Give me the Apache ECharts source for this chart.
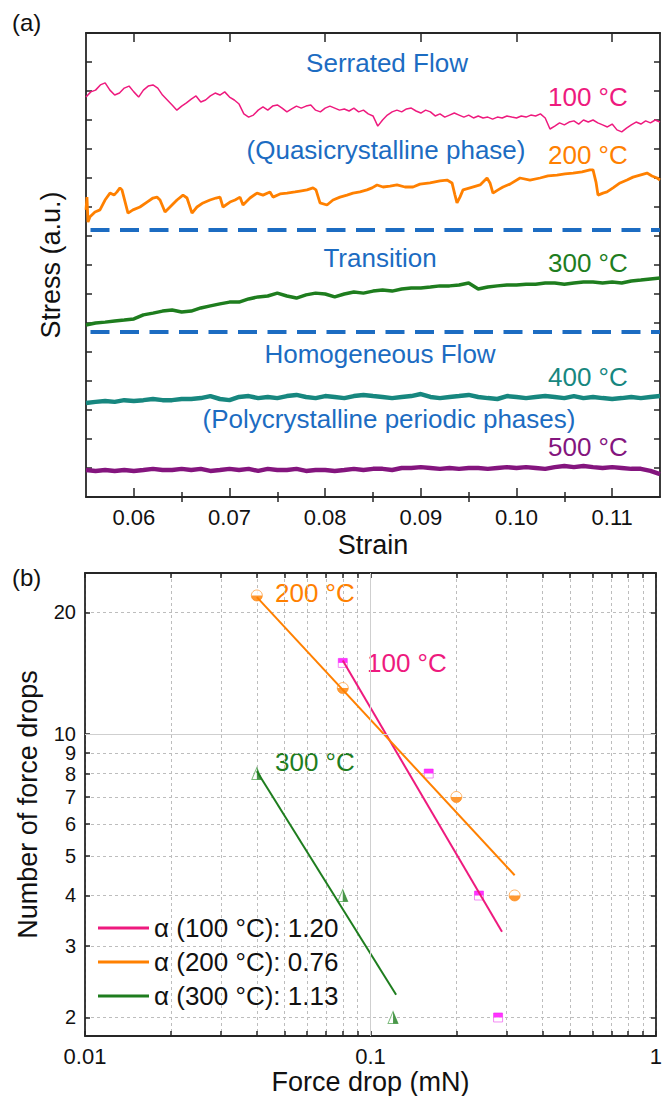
<!DOCTYPE html>
<html>
<head>
<meta charset="utf-8">
<script src="https://cdn.jsdelivr.net/npm/echarts@6/dist/echarts.min.js"></script>
<style>
  html, body { margin: 0; padding: 0; background: #fff; }
  #chart { width: 665px; height: 1096px; }
</style>
</head>
<body>
<div id="chart"></div>
<script>
const FONT = "'Liberation Sans', Arial, Helvetica, sans-serif";

// ---------- Panel (a): stress–strain curves (stress in arbitrary units) ----------
const strainFine = [0.0550,0.0555,0.0560,0.0565,0.0570,0.0575,0.0580,0.0585,0.0590,0.0595,0.0600,0.0605,0.0610,0.0615,0.0620,0.0625,0.0630,0.0635,0.0640,0.0645,0.0650,0.0655,0.0660,0.0665,0.0670,0.0675,0.0680,0.0685,0.0690,0.0695,0.0700,0.0705,0.0710,0.0715,0.0720,0.0725,0.0730,0.0735,0.0740,0.0745,0.0750,0.0755,0.0760,0.0765,0.0770,0.0775,0.0780,0.0785,0.0790,0.0795,0.0800,0.0805,0.0810,0.0815,0.0820,0.0825,0.0830,0.0835,0.0840,0.0845,0.0850,0.0855,0.0860,0.0865,0.0870,0.0875,0.0880,0.0885,0.0890,0.0895,0.0900,0.0905,0.0910,0.0915,0.0920,0.0925,0.0930,0.0935,0.0940,0.0945,0.0950,0.0955,0.0960,0.0965,0.0970,0.0975,0.0980,0.0985,0.0990,0.0995,0.1000,0.1005,0.1010,0.1015,0.1020,0.1025,0.1030,0.1035,0.1040,0.1045,0.1050,0.1055,0.1060,0.1065,0.1070,0.1075,0.1080,0.1085,0.1090,0.1095,0.1100,0.1105,0.1110,0.1115,0.1120,0.1125,0.1130,0.1135,0.1140,0.1145,0.1150];

const stress100 = [13.79,13.97,14.03,14.21,14.28,14.03,13.86,13.93,14.10,14.17,
  13.97,13.79,14.03,14.17,14.21,14.10,13.86,13.69,13.52,13.34,
  13.48,13.59,13.72,13.83,13.62,13.69,13.83,13.93,13.86,13.97,
  13.79,13.69,13.55,13.21,13.10,13.17,13.34,13.45,13.34,13.48,
  13.52,13.41,13.28,13.38,13.48,13.41,13.48,13.52,13.34,13.28,
  13.41,13.48,13.41,13.34,13.38,13.31,13.41,13.28,13.34,13.21,
  13.14,12.79,13.00,13.17,13.28,13.34,13.28,13.38,13.41,13.31,
  13.24,13.34,13.28,13.14,13.21,13.10,13.17,13.24,13.17,13.10,
  13.17,13.07,13.14,13.07,13.10,13.03,13.10,13.07,13.14,13.10,
  13.07,13.14,13.10,13.17,13.14,13.21,13.07,12.69,12.79,12.90,
  12.83,12.93,12.97,12.86,13.00,12.93,13.00,12.90,12.83,12.76,
  12.86,12.66,12.59,12.72,12.83,12.93,12.86,12.97,12.90,13.00,
  12.93];

const strain200 = [0.05500,0.05510,0.05521,0.05542,0.05594,0.05646,0.05699,0.05751,0.05793,0.05824,
  0.05855,0.05876,0.05939,0.05991,0.06064,0.06138,0.06200,0.06242,0.06274,0.06326,
  0.06378,0.06451,0.06514,0.06556,0.06608,0.06660,0.06723,0.06796,0.06859,0.06901,
  0.06932,0.07005,0.07058,0.07110,0.07141,0.07214,0.07287,0.07350,0.07423,0.07455,
  0.07528,0.07601,0.07685,0.07737,0.07810,0.07873,0.07904,0.07946,0.08019,0.08082,
  0.08155,0.08228,0.08291,0.08364,0.08437,0.08490,0.08542,0.08605,0.08678,0.08751,
  0.08834,0.08918,0.08991,0.09096,0.09200,0.09274,0.09326,0.09357,0.09378,0.09409,
  0.09441,0.09514,0.09619,0.09692,0.09723,0.09754,0.09807,0.09859,0.09932,0.10037,
  0.10141,0.10246,0.10329,0.10423,0.10507,0.10591,0.10685,0.10768,0.10800,0.10831,
  0.10852,0.10904,0.10946,0.11009,0.11082,0.11155,0.11218,0.11291,0.11364,0.11416,
  0.11469,0.11500];
const stress200 = [9.90,10.34,9.48,9.66,9.83,9.90,10.24,10.48,10.41,10.52,
  10.66,10.59,9.79,9.90,10.00,10.17,10.31,10.34,10.24,9.83,
  10.00,10.24,10.41,10.31,9.79,10.00,10.14,10.24,10.31,10.34,
  10.00,10.17,10.24,10.34,10.07,10.31,10.48,10.41,10.52,10.34,
  10.45,10.48,10.52,10.55,10.59,10.66,10.59,10.14,10.07,10.24,
  10.34,10.41,10.48,10.52,10.59,10.66,10.76,10.69,10.72,10.76,
  10.69,10.69,10.79,10.83,10.90,10.93,10.83,10.41,10.14,10.34,
  10.59,10.66,10.76,11.00,10.83,10.48,10.59,10.69,10.79,11.00,
  10.93,11.00,11.07,11.10,11.14,11.17,11.21,11.28,11.28,10.86,
  10.41,10.48,10.52,10.66,10.83,10.93,11.03,11.10,11.17,11.07,
  11.00,10.93];

const strainCoarse = [0.055,0.056,0.057,0.058,0.059,0.060,0.061,0.062,0.063,0.064,0.065,0.066,0.067,0.068,0.069,0.070,0.071,0.072,0.073,0.074,0.075,0.076,0.077,0.078,0.079,0.080,0.081,0.082,0.083,0.084,0.085,0.086,0.087,0.088,0.089,0.090,0.091,0.092,0.093,0.094,0.095,0.096,0.097,0.098,0.099,0.100,0.101,0.102,0.103,0.104,0.105,0.106,0.107,0.108,0.109,0.110,0.111,0.112,0.113,0.114,0.115];

const stress300 = [5.93,6.00,6.03,6.07,6.10,6.14,6.28,6.34,6.41,6.45,
  6.38,6.41,6.52,6.59,6.66,6.72,6.72,6.83,6.90,6.93,
  7.03,6.93,6.86,6.97,7.03,7.00,6.90,7.00,7.07,7.03,
  7.10,7.14,7.10,7.17,7.21,7.21,7.24,7.28,7.28,7.31,
  7.38,7.17,7.24,7.28,7.31,7.31,7.34,7.34,7.38,7.38,
  7.34,7.38,7.41,7.41,7.38,7.41,7.38,7.45,7.48,7.52,
  7.55];
const stress400 = [3.24,3.28,3.31,3.28,3.34,3.31,3.34,3.38,3.34,3.34,
  3.38,3.38,3.41,3.48,3.38,3.34,3.45,3.48,3.41,3.45,
  3.41,3.48,3.52,3.45,3.41,3.48,3.45,3.41,3.48,3.52,
  3.48,3.45,3.41,3.45,3.48,3.55,3.45,3.41,3.45,3.48,
  3.52,3.45,3.41,3.38,3.48,3.45,3.41,3.45,3.48,3.45,
  3.41,3.48,3.41,3.45,3.41,3.38,3.41,3.45,3.41,3.45,
  3.48];
const stress500 = [0.93,0.90,0.93,0.90,0.93,0.90,0.93,0.97,0.93,0.93,
  0.97,0.93,0.97,0.90,0.93,0.97,0.93,0.97,0.90,0.97,
  0.93,0.93,0.97,0.90,0.93,0.93,0.90,0.93,0.97,0.93,
  0.97,0.97,0.93,1.00,1.00,1.03,1.00,0.97,1.00,0.97,
  1.00,1.00,0.97,1.00,1.03,1.00,1.03,1.00,0.97,1.03,
  1.07,1.03,1.07,1.03,1.00,1.03,1.00,0.97,0.97,0.90,
  0.79];

// regime boundaries (stress levels of the dashed separators)
const regimeBounds = [9.21, 5.70];

// tick positions
const strainMajor = [0.06, 0.07, 0.08, 0.09, 0.10, 0.11];
const strainMinor = [0.065, 0.075, 0.085, 0.095, 0.105];

// ---------- Panel (b): force-drop statistics ----------
const force100 = [0.08, 0.16, 0.24, 0.28];
const count100 = [15, 8, 4, 2];
const force200 = [0.04, 0.08, 0.2, 0.32];
const count200 = [22, 13, 7, 4];
const force300 = [0.04, 0.08, 0.12];
const count300 = [8, 4, 2];

// power-law fits: start point, end force, exponent
const fit100 = { x0: 0.08, y0: 15.2, x1: 0.289, alpha: 1.20 };
const fit200 = { x0: 0.04, y0: 21.8, x1: 0.32, alpha: 0.76 };
const fit300 = { x0: 0.04, y0: 8.1, x1: 0.123, alpha: 1.13 };

const forceTicks = [0.01,0.02,0.03,0.04,0.05,0.06,0.07,0.08,0.09,0.1,0.2,0.3,0.4,0.5,0.6,0.7,0.8,0.9,1];
const forceLabels = [0.01, 0.1, 1];
const countTicks = [2,3,4,5,6,7,8,9,10,20];

// ---------- colours ----------
const C100 = '#ee1a7e', C200 = '#ff8000', C300 = '#1e7d1e', C400 = '#17877f', C500 = '#84157e';
const BLUE = '#1c6cc2';
const AX = '#262626';

const zip = (xs, ys) => xs.map((x, i) => [x, ys[i]]);
const fitLine = f => [[f.x0, f.y0], [f.x1, f.y0 * Math.pow(f.x1 / f.x0, -f.alpha)]];
const fmtForce = v => (Math.abs(v - 1) < 1e-9 ? '1' : Math.abs(v - 0.1) < 1e-9 ? '0.1' : '0.01');

const name100 = 'α (100 °C): 1.20';
const name200 = 'α (200 °C): 0.76';
const name300 = 'α (300 °C): 1.13';

function frameAxis(extra) {
  return Object.assign({
    axisLine: { show: true, onZero: false, lineStyle: { color: AX, width: 1.8 } },
    axisTick: { show: false },
    axisLabel: { show: false },
    splitLine: { show: false }
  }, extra);
}
const tick = (values, len) => ({ show: true, inside: true, length: len, customValues: values, lineStyle: { color: AX, width: 1.5 } });

const dotted = { show: true, lineStyle: { color: '#bdbdbd', width: 1, type: [3, 3] } };
const titleStyle = { fontSize: 27, color: '#111', fontFamily: FONT };

const chart = echarts.init(document.getElementById('chart'), null, { renderer: 'svg' });

const option = {
  animation: false,
  backgroundColor: '#fff',
  textStyle: { fontFamily: FONT },
  grid: [
    { left: 86, top: 33, width: 574, height: 464 },
    { left: 85, top: 573, width: 572, height: 463 }
  ],
  xAxis: [
    frameAxis({ gridIndex: 0, type: 'value', min: 0.055, max: 0.115, position: 'bottom',
      axisTick: tick(strainMajor, 9),
      axisLabel: { show: true, customValues: strainMajor, formatter: v => v.toFixed(2), fontSize: 22, color: '#111', margin: 9, fontFamily: FONT },
      name: 'Strain', nameLocation: 'middle', nameGap: 34, nameTextStyle: titleStyle }),
    frameAxis({ gridIndex: 0, type: 'value', min: 0.055, max: 0.115, position: 'bottom',
      axisLine: { show: false }, axisTick: tick(strainMinor, 5) }),
    frameAxis({ gridIndex: 0, type: 'value', min: 0.055, max: 0.115, position: 'top',
      axisTick: tick(strainMajor, 9) }),
    frameAxis({ gridIndex: 0, type: 'value', min: 0.055, max: 0.115, position: 'top',
      axisLine: { show: false }, axisTick: tick(strainMinor, 5) }),
    frameAxis({ gridIndex: 1, type: 'log', logBase: 10, min: 0.01, max: 1, position: 'bottom',
      axisTick: tick(forceTicks, 5),
      axisLabel: { show: true, customValues: forceLabels, formatter: fmtForce, fontSize: 22, color: '#111', margin: 9, fontFamily: FONT },
      splitLine: dotted,
      name: 'Force drop (mN)', nameLocation: 'middle', nameGap: 32, nameTextStyle: titleStyle }),
    frameAxis({ gridIndex: 1, type: 'log', logBase: 10, min: 0.01, max: 1, position: 'top',
      axisTick: tick(forceTicks, 5) })
  ],
  yAxis: [
    frameAxis({ gridIndex: 0, type: 'value', min: 0, max: 16, interval: 1, position: 'left',
      axisTick: { show: true, inside: true, length: 6, lineStyle: { color: AX, width: 1.5 } },
      name: 'Stress (a.u.)', nameLocation: 'middle', nameGap: 22, nameTextStyle: titleStyle }),
    frameAxis({ gridIndex: 0, type: 'value', min: 0, max: 16, interval: 1, position: 'right',
      axisTick: { show: true, inside: true, length: 6, lineStyle: { color: AX, width: 1.5 } } }),
    frameAxis({ gridIndex: 1, type: 'log', logBase: 10, min: 1.8, max: 25, position: 'left',
      axisTick: tick(countTicks, 5),
      axisLabel: { show: true, customValues: countTicks, formatter: v => String(Math.round(v)),
        fontSize: 20, lineHeight: 16, color: '#111', margin: 9, fontFamily: FONT },
      splitLine: dotted,
      name: 'Number of force drops', nameLocation: 'middle', nameGap: 44, nameTextStyle: titleStyle }),
    frameAxis({ gridIndex: 1, type: 'log', logBase: 10, min: 1.8, max: 25, position: 'right',
      axisTick: tick(countTicks, 5) })
  ],
  legend: {
    data: [name100, name200, name300],
    orient: 'vertical', left: 93, top: 910,
    itemWidth: 51, itemHeight: 3, itemGap: 8, icon: 'rect',
    selectedMode: false,
    textStyle: { fontSize: 26, color: '#111', fontFamily: FONT }
  },
  series: [
    // ----- panel (a) -----
    { type: 'line', name: '100 °C', xAxisIndex: 0, yAxisIndex: 0, data: zip(strainFine, stress100),
      showSymbol: false, lineStyle: { color: C100, width: 1.5 }, itemStyle: { color: C100 } },
    { type: 'line', name: '200 °C', xAxisIndex: 0, yAxisIndex: 0, data: zip(strain200, stress200),
      showSymbol: false, lineStyle: { color: C200, width: 2.8 }, itemStyle: { color: C200 } },
    { type: 'line', name: '300 °C', xAxisIndex: 0, yAxisIndex: 0, data: zip(strainCoarse, stress300),
      showSymbol: false, lineStyle: { color: C300, width: 3.5 }, itemStyle: { color: C300 } },
    { type: 'line', name: '400 °C', xAxisIndex: 0, yAxisIndex: 0, data: zip(strainCoarse, stress400),
      showSymbol: false, lineStyle: { color: C400, width: 4.5 }, itemStyle: { color: C400 } },
    { type: 'line', name: '500 °C', xAxisIndex: 0, yAxisIndex: 0, data: zip(strainCoarse, stress500),
      showSymbol: false, lineStyle: { color: C500, width: 4.5 }, itemStyle: { color: C500 },
      markLine: { silent: true, symbol: 'none', label: { show: false },
        lineStyle: { color: BLUE, width: 4, type: [19, 10.5], dashOffset: 25 },
        data: regimeBounds.map(v => ({ yAxis: v })) } },

    // ----- panel (b): fitted power laws -----
    { type: 'line', name: name100, xAxisIndex: 4, yAxisIndex: 2, data: fitLine(fit100),
      showSymbol: false, lineStyle: { color: C100, width: 2 }, itemStyle: { color: C100 },
      markLine: { silent: true, symbol: 'none', label: { show: false },
        lineStyle: { color: '#cfcfcf', width: 1, type: 'solid' },
        data: [{ xAxis: 0.1 }, { yAxis: 10 }] } },
    { type: 'line', name: name200, xAxisIndex: 4, yAxisIndex: 2, data: fitLine(fit200),
      showSymbol: false, lineStyle: { color: C200, width: 2 }, itemStyle: { color: C200 } },
    { type: 'line', name: name300, xAxisIndex: 4, yAxisIndex: 2, data: fitLine(fit300),
      showSymbol: false, lineStyle: { color: C300, width: 2 }, itemStyle: { color: C300 } },

    // ----- panel (b): half-filled markers (outline + filled half) -----
    { type: 'scatter', name: '100 °C pts', xAxisIndex: 4, yAxisIndex: 2, data: zip(force100, count100),
      symbol: 'rect', symbolSize: 9, itemStyle: { color: '#fff', borderColor: '#f06ef0', borderWidth: 1 } },
    { type: 'scatter', name: '100 °C fill', xAxisIndex: 4, yAxisIndex: 2, data: zip(force100, count100),
      symbol: 'rect', symbolSize: [9, 4.5], symbolOffset: [0, -2.25], itemStyle: { color: '#ff00ff' } },
    { type: 'scatter', name: '200 °C pts', xAxisIndex: 4, yAxisIndex: 2, data: zip(force200, count200),
      symbol: 'circle', symbolSize: 11, itemStyle: { color: '#fff', borderColor: '#ffa040', borderWidth: 1 } },
    { type: 'scatter', name: '200 °C fill', xAxisIndex: 4, yAxisIndex: 2, data: zip(force200, count200),
      symbol: 'path://M0,0 A10,10 0 0 0 20,0 Z', symbolSize: [11, 5.5], symbolOffset: [0, 2.75], itemStyle: { color: C200 } },
    { type: 'scatter', name: '300 °C pts', xAxisIndex: 4, yAxisIndex: 2, data: zip(force300, count300),
      symbol: 'triangle', symbolSize: [10, 12], itemStyle: { color: '#fff', borderColor: '#5caa5c', borderWidth: 1 } },
    { type: 'scatter', name: '300 °C fill', xAxisIndex: 4, yAxisIndex: 2, data: zip(force300, count300),
      symbol: 'path://M0,0 L10,20 L0,20 Z', symbolSize: [5, 12], symbolOffset: [2.5, 0], itemStyle: { color: C300 } }
  ],
  graphic: [
    { type: 'text', x: 12, y: 22, style: { text: '(a)', fontSize: 24, fontFamily: FONT, fill: '#111', verticalAlign: 'middle' } },
    { type: 'text', x: 12, y: 577, style: { text: '(b)', fontSize: 24, fontFamily: FONT, fill: '#111', verticalAlign: 'middle' } },

    { type: 'text', x: 387, y: 63, style: { text: 'Serrated Flow', fontSize: 26, fontFamily: FONT, fill: BLUE, align: 'center', verticalAlign: 'middle' } },
    { type: 'text', x: 386, y: 150, style: { text: '(Quasicrystalline phase)', fontSize: 26, fontFamily: FONT, fill: BLUE, align: 'center', verticalAlign: 'middle' } },
    { type: 'text', x: 380, y: 258, style: { text: 'Transition', fontSize: 26, fontFamily: FONT, fill: BLUE, align: 'center', verticalAlign: 'middle' } },
    { type: 'text', x: 380, y: 354, style: { text: 'Homogeneous Flow', fontSize: 26, fontFamily: FONT, fill: BLUE, align: 'center', verticalAlign: 'middle' } },
    { type: 'text', x: 389, y: 419, style: { text: '(Polycrystalline periodic phases)', fontSize: 26, fontFamily: FONT, fill: BLUE, align: 'center', verticalAlign: 'middle' } },

    { type: 'text', x: 548, y: 97, style: { text: '100 °C', fontSize: 26, fontFamily: FONT, fill: C100, verticalAlign: 'middle' } },
    { type: 'text', x: 548, y: 155, style: { text: '200 °C', fontSize: 26, fontFamily: FONT, fill: C200, verticalAlign: 'middle' } },
    { type: 'text', x: 548, y: 263, style: { text: '300 °C', fontSize: 26, fontFamily: FONT, fill: C300, verticalAlign: 'middle' } },
    { type: 'text', x: 548, y: 377, style: { text: '400 °C', fontSize: 26, fontFamily: FONT, fill: C400, verticalAlign: 'middle' } },
    { type: 'text', x: 548, y: 447, style: { text: '500 °C', fontSize: 26, fontFamily: FONT, fill: C500, verticalAlign: 'middle' } },

    { type: 'text', x: 275, y: 593, style: { text: '200 °C', fontSize: 26, fontFamily: FONT, fill: C200, verticalAlign: 'middle' } },
    { type: 'text', x: 367, y: 663, style: { text: '100 °C', fontSize: 26, fontFamily: FONT, fill: C100, verticalAlign: 'middle' } },
    { type: 'text', x: 275, y: 762, style: { text: '300 °C', fontSize: 26, fontFamily: FONT, fill: C300, verticalAlign: 'middle' } }
  ]
};

chart.setOption(option);
</script>
</body>
</html>
